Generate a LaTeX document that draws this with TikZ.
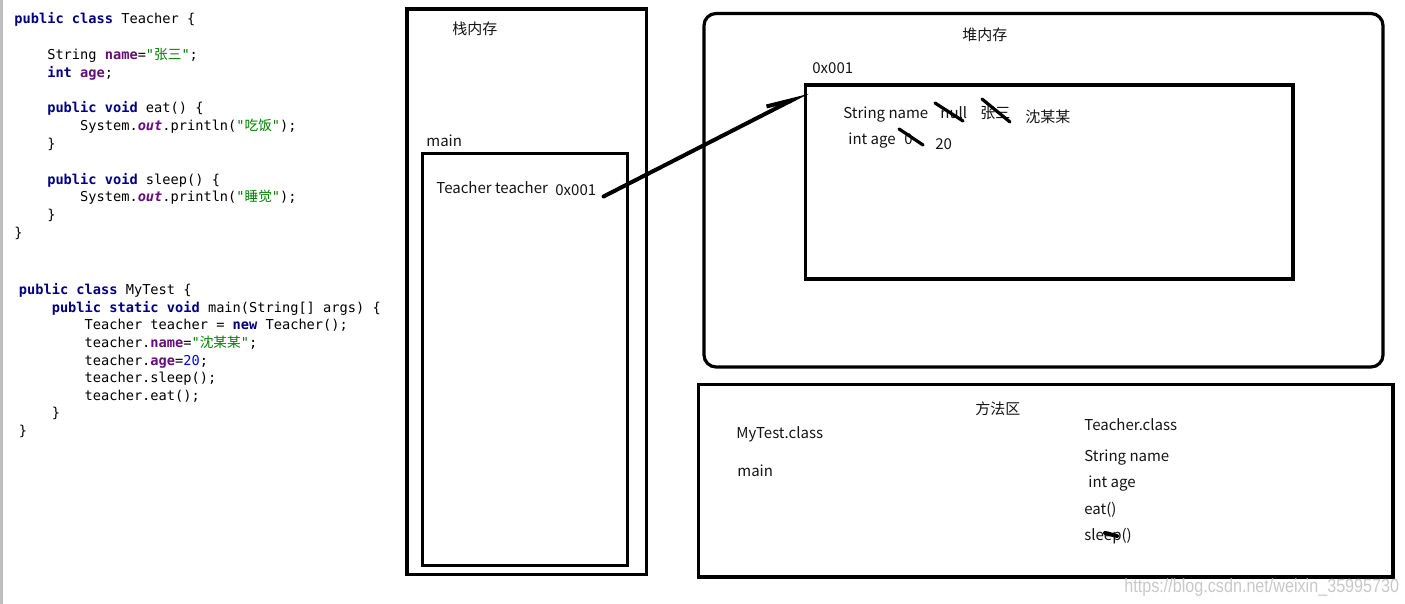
\documentclass[tikz,border=0pt]{standalone}
\usepackage{fontspec}
\setmonofont{DejaVu Sans Mono}
\newfontfamily\cjk{Noto Sans CJK SC}
\newfontfamily\wmfont[FakeStretch=0.85]{Liberation Sans}
\usetikzlibrary{
  arrows.meta,
  fit
}
\definecolor{kwcolor}{RGB}{0, 0, 128}
\definecolor{fldcolor}{RGB}{102, 14, 122}
\definecolor{strcolor}{RGB}{0, 128, 0}
\definecolor{numcolor}{RGB}{0, 0, 255}
\definecolor{boxcolor}{RGB}{0, 0, 0}
\definecolor{labelcolor}{RGB}{20, 20, 20}
\definecolor{wmcolor}{RGB}{200, 200, 200}
\definecolor{barcolor}{RGB}{190, 190, 190}
\newcommand\kw[1]{{\bfseries\color{kwcolor}#1}}
\newcommand\fld[1]{{\bfseries\color{fldcolor}#1}}
\newcommand\fldit[1]{{\bfseries\itshape\color{fldcolor}#1}}
\newcommand\jstr[1]{{\color{strcolor}#1}}
\newcommand\jnum[1]{{\color{numcolor}#1}}
\newcommand\ind{\hspace*{2.408em}}
\tikzset{
codetext/.style={
  anchor=base west,
  inner sep=0pt,
  align=left,
  font=\ttfamily\fontsize{6.83}{8.9}\selectfont
},
memtext/.style={
  anchor=base west,
  inner sep=0pt,
  yshift=-0.7pt,
  font=\cjk\fontsize{7.5}{9}\selectfont,
  text=labelcolor
},
membox/.style={
  draw=boxcolor,
  line width=1.6pt,
  inner sep=0pt,
  outer sep=0pt
},
heapbox/.style={
  membox,
  rounded corners=6pt
},
strike/.style={
  draw=boxcolor,
  line width=1.6pt,
  line cap=round
},
refarrow/.style={
  -{Straight Barb[left,length=13pt,width=6pt]},
  draw=boxcolor,
  line width=2pt,
  line cap=round
}
}
\begin{document}
\begin{tikzpicture}[x=0.5pt,y=-0.5pt]
\useasboundingbox (0,0) rectangle (1405,604);
\fill[barcolor] (0,0) rectangle (3,604);

% source code (base = last line)
\node[codetext] (teachercode) at (14,237.5) {%
\kw{public} \kw{class} Teacher \{\\
\mbox{}\\
\ind String \fld{name}=\jstr{"{\cjk 张三}"};\\
\ind\kw{int} \fld{age};\\
\mbox{}\\
\ind\kw{public} \kw{void} eat() \{\\
\ind\ind System.\fldit{out}.println(\jstr{"{\cjk 吃饭}"});\\
\ind\}\\
\mbox{}\\
\ind\kw{public} \kw{void} sleep() \{\\
\ind\ind System.\fldit{out}.println(\jstr{"{\cjk 睡觉}"});\\
\ind\}\\
\}};
\node[codetext, font=\ttfamily\fontsize{6.83}{8.8}\selectfont] (testcode) at (18.5,435.5) {%
\kw{public} \kw{class} MyTest \{\\
\ind\kw{public} \kw{static} \kw{void} main(String[] args) \{\\
\ind\ind Teacher teacher = \kw{new} Teacher();\\
\ind\ind teacher.\fld{name}=\jstr{"{\cjk 沈某某}"};\\
\ind\ind teacher.\fld{age}=\jnum{20};\\
\ind\ind teacher.sleep();\\
\ind\ind teacher.eat();\\
\ind\}\\
\}};

% stack
\node[membox, fit={(407,9) (646.5,574.5)}] (stack) {};
\node[membox, fit={(422.5,153.5) (627.5,565.5)}] (mainframe) {};
\node[memtext] (stacktitle) at (452,33) {栈内存};
\node[memtext] (mainlbl) at (426,145) {main};
\node[memtext] (refvar) at (436,192) {Teacher teacher};
\node[memtext] (ref) at (555,194) {0x001};

% heap
\node[heapbox, fit={(704,13.5) (1383,367)}] (heap) {};
\node[membox, fit={(805.5,85) (1293,279)}] (obj) {};
\node[memtext] (heaptitle) at (962,39) {堆内存};
\node[memtext] (addr) at (812,72) {0x001};
\node[memtext] (namefld) at (843,117) {String name};
\node[memtext] (nullv) at (940,117) {null};
\node[memtext] (zsv) at (980,117) {张三};
\node[memtext] (smmv) at (1025,121) {沈某某};
\node[memtext] (agefld) at (848,143) {int age};
\node[memtext] (zerov) at (904,143) {0};
\node[memtext] (agev) at (935,148) {20};
\draw[strike] (935,103) -- (963,121);
\draw[strike] (982,99) -- (1010,122);
\draw[strike] (899,129) -- (923,145);

% reference
\coordinate (tip) at ([shift={(2.5,7)}]obj.north west);
\draw[refarrow] ([shift={(7,0.5)}]ref.south east) -- (tip);

% method area
\node[membox, fit={(698.5,384.5) (1393,577)}] (methodarea) {};
\node[memtext] (methodtitle) at (975,413) {方法区};
\node[memtext] (testcls) at (736,437) {MyTest.class};
\node[memtext] (testmain) at (737,475) {main};
\node[memtext] (teachercls) at (1084,429) {Teacher.class};
\node[memtext] (clsname) at (1084,460) {String name};
\node[memtext] (clsage) at (1088,486) {int age};
\node[memtext] (clseat) at (1084,513) {eat()};
\node[memtext] (clssleep) at (1084,539) {sleep()};
\draw[strike, line width=2pt] (1105,533) -- (1117,536);

\node[anchor=base west, inner sep=0pt, font=\wmfont\fontsize{9.5}{11}\selectfont, text=wmcolor] (wm) at (1124,593) {https://blog.csdn.net/weixin\_35995730};
\end{tikzpicture}
\end{document}
